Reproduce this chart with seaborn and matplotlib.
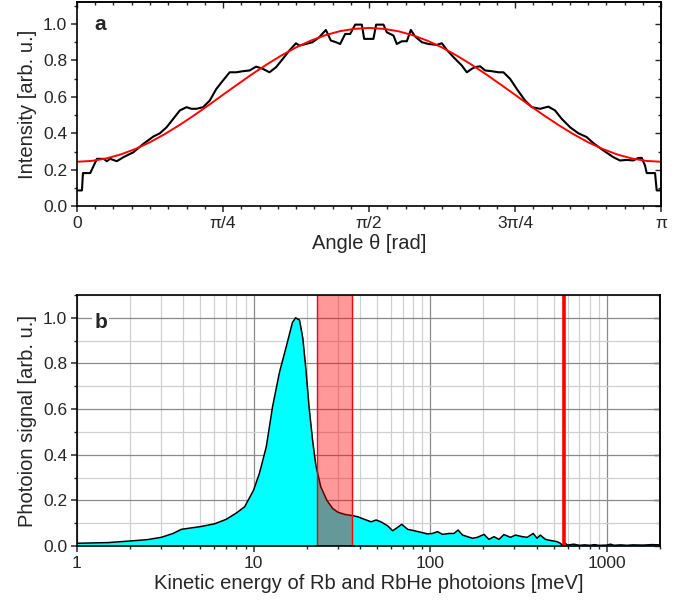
import numpy as np
import matplotlib
matplotlib.use('Agg')
import matplotlib.pyplot as plt
import seaborn as sns
from matplotlib.ticker import MultipleLocator, LogLocator, NullFormatter, FixedLocator

# panel a: angular distribution (angle in units of pi)
theta_meas = [0.0, 0.0085, 0.0102, 0.0227, 0.0341, 0.0455, 0.0511, 0.0568, 0.0682, 0.0795,
              0.0966, 0.1136, 0.1307, 0.142, 0.1534, 0.1648, 0.1761, 0.1875, 0.196, 0.2045,
              0.2159, 0.2273, 0.2386, 0.25, 0.2614, 0.2727, 0.2841, 0.2955, 0.3068, 0.3182,
              0.3295, 0.3409, 0.3523, 0.3636, 0.375, 0.3807, 0.392, 0.4034, 0.4148, 0.4261,
              0.4347, 0.4432, 0.4506, 0.4592, 0.4677, 0.4763, 0.4877, 0.4917, 0.5076, 0.5122,
              0.5248, 0.5305, 0.5419, 0.5476, 0.5562, 0.5648, 0.5716, 0.579, 0.5904, 0.6018,
              0.6161, 0.6247, 0.6332, 0.6446, 0.6589, 0.6675, 0.676, 0.6817, 0.6903, 0.6988,
              0.7102, 0.7216, 0.7302, 0.7416, 0.753, 0.7673, 0.7787, 0.793, 0.8072, 0.8186,
              0.83, 0.8443, 0.8585, 0.8728, 0.8842, 0.9013, 0.9184, 0.9298, 0.9413, 0.9526,
              0.9612, 0.967, 0.9727, 0.9755, 0.9898, 0.9926, 1.0]
int_meas = [0.088, 0.088, 0.183, 0.183, 0.261, 0.261, 0.248, 0.261, 0.248, 0.27,
            0.297, 0.343, 0.383, 0.401, 0.434, 0.48, 0.526, 0.544, 0.535, 0.535,
            0.544, 0.58, 0.644, 0.69, 0.735, 0.735, 0.741, 0.745, 0.766, 0.754,
            0.735, 0.763, 0.808, 0.854, 0.894, 0.881, 0.89, 0.90, 0.927, 0.967,
            0.909, 0.90, 0.89, 0.945, 0.945, 0.996, 0.996, 0.918, 0.918, 0.996,
            0.996, 0.954, 0.936, 0.89, 0.905, 0.905, 0.967, 0.931, 0.90, 0.89,
            0.885, 0.894, 0.858, 0.818, 0.772, 0.735, 0.754, 0.763, 0.768, 0.745,
            0.741, 0.735, 0.735, 0.699, 0.644, 0.58, 0.544, 0.535, 0.547, 0.526,
            0.48, 0.434, 0.401, 0.38, 0.347, 0.307, 0.27, 0.252, 0.255, 0.252,
            0.266, 0.266, 0.224, 0.183, 0.183, 0.088, 0.088]

theta_fit = [0.0, 0.025, 0.05, 0.075, 0.1, 0.125, 0.15, 0.175, 0.2, 0.225, 0.25,
             0.275, 0.3, 0.325, 0.35, 0.375, 0.4, 0.425, 0.45, 0.475, 0.5,
             0.525, 0.55, 0.575, 0.6, 0.625, 0.65, 0.675, 0.7, 0.725, 0.75,
             0.775, 0.8, 0.825, 0.85, 0.875, 0.9, 0.925, 0.95, 0.975, 1.0]
int_fit = [0.245, 0.2495, 0.263, 0.285, 0.315, 0.352, 0.396, 0.445, 0.498, 0.554, 0.612,
           0.669, 0.725, 0.778, 0.827, 0.871, 0.908, 0.938, 0.960, 0.973, 0.978,
           0.973, 0.960, 0.938, 0.908, 0.871, 0.827, 0.778, 0.725, 0.669, 0.612,
           0.554, 0.498, 0.445, 0.396, 0.352, 0.315, 0.285, 0.263, 0.2495, 0.245]

# panel b: kinetic energy spectrum (meV)
energy = [1, 1.5, 2, 2.5, 3, 3.5, 3.9, 4.5, 5, 6, 7, 8, 8.9, 10, 10.8, 11.8, 12.8, 14,
          15.3, 16.6, 17.3, 18.2, 19, 19.8, 20.6, 21.6, 22.5, 24, 26, 28, 30, 33,
          36.5, 38.9, 42.4, 46.3, 49.4, 52.6, 57.5, 61.3, 65.5, 69, 74.6, 81.2, 88.6,
          96.7, 103, 110, 117.5, 128, 136.5, 143.8, 152.4, 162.5, 173.5, 185, 201.8,
          215, 229.6, 245, 261.5, 285, 304, 332, 354, 383, 402.5, 420, 449, 490, 523,
          546, 558, 575, 580, 600, 650, 700, 750, 800, 850, 900, 1000, 1050, 1100,
          1200, 1300, 1400, 1600, 1800, 2000]
signal = [0.012, 0.015, 0.022, 0.028, 0.038, 0.055, 0.073, 0.080, 0.085, 0.097, 0.117,
          0.145, 0.172, 0.245, 0.32, 0.435, 0.61, 0.76, 0.873, 0.98, 1.0, 0.99, 0.91,
          0.77, 0.61, 0.46, 0.355, 0.26, 0.2, 0.165, 0.148, 0.138,
          0.133, 0.128, 0.117, 0.106, 0.114, 0.106, 0.088, 0.067, 0.082, 0.095, 0.073,
          0.067, 0.060, 0.053, 0.055, 0.063, 0.051, 0.055, 0.055, 0.070, 0.048, 0.041,
          0.034, 0.038, 0.051, 0.029, 0.041, 0.029, 0.050, 0.038, 0.048, 0.041, 0.038,
          0.055, 0.034, 0.048, 0.029, 0.023, 0.019, 0.012, 0.004, 0.004, 0.012, 0.004,
          0.008, 0.003, 0.005, 0.003, 0.006, 0.003, 0.004, 0.008, 0.003, 0.005, 0.003,
          0.005, 0.004, 0.006, 0.005]

band_lo, band_hi = 23, 36
cutoff = 570

sns.set_theme(style='ticks')
plt.rcParams['font.family'] = ['Liberation Sans', 'DejaVu Sans']
plt.rcParams['axes.linewidth'] = 1.2

fig = plt.figure(figsize=(6.79, 6.05), dpi=100)
ax1 = fig.add_axes([0.1134, 0.6587, 0.8601, 0.3380])
ax2 = fig.add_axes([0.1134, 0.0975, 0.8586, 0.4149])

# ---- panel a
sns.lineplot(x=theta_meas, y=int_meas, ax=ax1, color='black', lw=1.5,
             estimator=None, sort=False)
sns.lineplot(x=theta_fit, y=int_fit, ax=ax1, color='red', lw=1.4,
             estimator=None, sort=False)
ax1.set_xlim(0, 1)
ax1.set_ylim(0, 1.12)
ax1.set_xticks([0, 0.25, 0.5, 0.75, 1])
ax1.set_xticklabels(['0', 'π/4', 'π/2', '3π/4', 'π'])
ax1.xaxis.set_minor_locator(MultipleLocator(1 / 32))
ax1.set_yticks([0, 0.2, 0.4, 0.6, 0.8, 1.0])
ax1.yaxis.set_minor_locator(MultipleLocator(0.1))
ax1.set_xlabel('Angle θ [rad]', fontsize=14.5, labelpad=2)
ax1.set_ylabel('Intensity [arb. u.]', fontsize=14.5, labelpad=4)
ax1.text(0.03, 0.89, 'a', transform=ax1.transAxes, fontsize=15, fontweight='bold',
         va='center')

# ---- panel b
ax2.set_xscale('log')
ax2.fill_between(energy, signal, 0, color='#00ffff', lw=0, zorder=2)
sns.lineplot(x=energy, y=signal, ax=ax2, color='black', lw=1.1,
             estimator=None, sort=False, zorder=3)
ax2.axvspan(band_lo, band_hi, color='red', alpha=0.4, lw=0, zorder=4)
ax2.axvline(band_lo, color='red', lw=1.0, zorder=5)
ax2.axvline(band_hi, color='red', lw=1.0, zorder=5)
ax2.axvline(cutoff, color='red', lw=2.6, zorder=5)
ax2.set_xlim(1, 2000)
ax2.set_ylim(0, 1.1)
ax2.xaxis.set_major_locator(FixedLocator([1, 10, 100, 1000]))
ax2.set_xticklabels(['1', '10', '100', '1000'])
ax2.xaxis.set_minor_locator(LogLocator(base=10, subs=np.arange(2, 10), numticks=20))
ax2.xaxis.set_minor_formatter(NullFormatter())
ax2.set_yticks([0, 0.2, 0.4, 0.6, 0.8, 1.0])
ax2.yaxis.set_minor_locator(MultipleLocator(0.1))
ax2.set_axisbelow(True)
ax2.grid(which='major', color='#8a8a8a', lw=0.9)
ax2.grid(which='minor', color='#d0d0d0', lw=0.9)
ax2.set_xlabel('Kinetic energy of Rb and RbHe photoions [meV]', fontsize=14.5, labelpad=2)
ax2.set_ylabel('Photoion signal [arb. u.]', fontsize=14.5, labelpad=4)
ax2.text(0.03, 0.89, 'b', transform=ax2.transAxes, fontsize=15, fontweight='bold',
         va='center', zorder=6,
         bbox=dict(facecolor='white', edgecolor='none', pad=1.5))

for ax in (ax1, ax2):
    ax.tick_params(which='major', direction='out', length=4, width=1.1,
                   labelsize=12.5, pad=3)
    ax.tick_params(which='minor', direction='out', length=2.5, width=1.0)
    for s in ax.spines.values():
        s.set_color('black')
        s.set_zorder(10)

# inward ticks on right (and top for panel a)
r1 = ax1.secondary_yaxis('right')
r1.set_yticks([0, 0.2, 0.4, 0.6, 0.8, 1.0])
r1.yaxis.set_minor_locator(MultipleLocator(0.1))
r1.tick_params(which='both', direction='in', labelright=False, width=1.0)
r1.tick_params(which='major', length=4)
r1.tick_params(which='minor', length=2.5)
t1 = ax1.secondary_xaxis('top')
t1.set_xticks([0, 0.25, 0.5, 0.75, 1])
t1.xaxis.set_minor_locator(MultipleLocator(1 / 32))
t1.tick_params(which='both', direction='in', labeltop=False, width=1.0)
t1.tick_params(which='major', length=4)
t1.tick_params(which='minor', length=2.5)

r2 = ax2.secondary_yaxis('right')
r2.set_yticks([0, 0.2, 0.4, 0.6, 0.8, 1.0])
r2.yaxis.set_minor_locator(MultipleLocator(0.1))
r2.tick_params(which='both', direction='in', labelright=False, width=1.0)
r2.tick_params(which='major', length=4)
r2.tick_params(which='minor', length=2.5)

fig.savefig('out.png', dpi=100)
